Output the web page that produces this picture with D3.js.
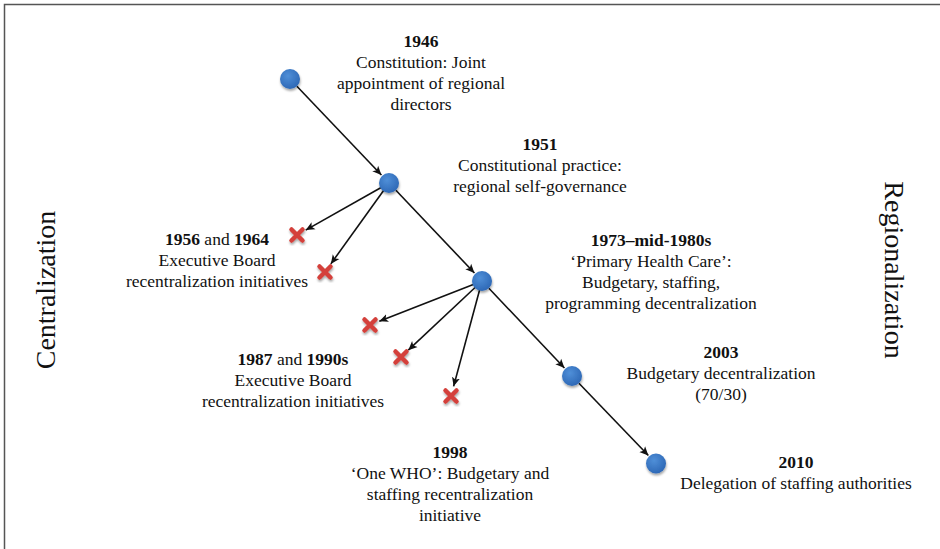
<!DOCTYPE html>
<html>
<head>
<meta charset="utf-8">
<script src="https://cdn.jsdelivr.net/npm/d3@7"></script>
<style>
    body { margin: 0; background: #fff; }
    svg { display: block; }
    text, tspan { font-family: "Liberation Serif", "Times New Roman", serif; fill: #111; }
</style>
</head>
<body>
<svg id="chart" width="940" height="549"></svg>
<script>
window.addEventListener("load", main);

const WIDTH = 940;
const HEIGHT = 549;
const SERIF = "'Liberation Serif', 'Times New Roman', serif";

// grid units (1 unit = 10px) for the diagram layout
const nodeYears = ["1946", "1951", "1973", "2003", "2010"];
const nodeX = [29.0, 38.9, 48.2, 57.2, 65.6];
const nodeY = [7.9, 18.3, 28.1, 37.6, 46.35];

// rejected recentralization attempts (red crosses) and the node they branch from
const crossX = [29.7, 32.5, 37.0, 40.1, 45.1];
const crossY = [23.5, 27.2, 32.5, 35.7, 39.6];
const crossParent = [1, 1, 2, 2, 2];

// label blocks: **bold** marks bold spans
const labelX = [42.1, 54.0, 21.7, 65.1, 29.3, 72.1, 45.0, 79.6];
const labelY = [4.7, 15.0, 24.5, 24.6, 36.5, 35.8, 45.8, 46.8];
const labelLines = [
    ["**1946**", "Constitution: Joint", "appointment of regional", "directors"],
    ["**1951**", "Constitutional practice:", "regional self-governance"],
    ["**1956** and **1964**", "Executive Board", "recentralization initiatives"],
    ["**1973–mid-1980s**", "‘Primary Health Care’:", "Budgetary, staffing,", "programming decentralization"],
    ["**1987** and **1990s**", "Executive Board", "recentralization initiatives"],
    ["**2003**", "Budgetary decentralization", "(70/30)"],
    ["**1998**", "‘One WHO’: Budgetary and", "staffing recentralization", "initiative"],
    ["**2010**", "Delegation of staffing authorities"]
];

const sideLabels = ["Centralization", "Regionalization"];

const NODE_R = 10;
const LINE_H = 21;

function shorten(x1, y1, x2, y2, a, b){
    var dx = x2 - x1, dy = y2 - y1;
    var len = Math.sqrt(dx*dx + dy*dy);
    return [x1 + dx*a/len, y1 + dy*a/len, x2 - dx*b/len, y2 - dy*b/len];
}

function main(){
    var x = d3.scaleLinear().domain([0, 94]).range([0, WIDTH]);
    var y = d3.scaleLinear().domain([0, 54.9]).range([0, HEIGHT]);

    var svg = d3.select("#chart");
    var defs = svg.append("defs");

    defs.append("marker")
        .attr("id", "arrow")
        .attr("viewBox", "0 -5 10 10")
        .attr("refX", 10).attr("refY", 0)
        .attr("markerWidth", 9).attr("markerHeight", 9)
        .attr("markerUnits", "userSpaceOnUse")
        .attr("orient", "auto")
        .append("path")
        .attr("d", "M0,-4.5L10,0L0,4.5L2.5,0Z")
        .attr("fill", "#111");

    var shadow = defs.append("filter").attr("id", "shadow")
        .attr("x", "-50%").attr("y", "-50%").attr("width", "200%").attr("height", "200%");
    shadow.append("feDropShadow")
        .attr("dx", 0.5).attr("dy", 2).attr("stdDeviation", 1.3)
        .attr("flood-color", "#000").attr("flood-opacity", 0.35);

    var grad = defs.append("radialGradient").attr("id", "blue")
        .attr("cx", "40%").attr("cy", "35%").attr("r", "70%");
    grad.append("stop").attr("offset", "0%").attr("stop-color", "#4f8fd8");
    grad.append("stop").attr("offset", "100%").attr("stop-color", "#2c66b4");

    // frame: top and left edges only
    svg.append("path")
        .attr("d", "M4.5," + HEIGHT + "V4.5H" + WIDTH)
        .attr("fill", "none")
        .attr("stroke", "#555")
        .attr("stroke-width", 1.5);

    var nodes = nodeYears.map((yr, i)=>({year: yr, cx: x(nodeX[i]), cy: y(nodeY[i])}));
    var crosses = crossX.map((cx, i)=>({cx: x(cx), cy: y(crossY[i]), parent: crossParent[i]}));

    var links = [];
    for (var i = 0; i < nodes.length - 1; i++){
        links.push(shorten(nodes[i].cx, nodes[i].cy, nodes[i+1].cx, nodes[i+1].cy, NODE_R, NODE_R + 1));
    }
    crosses.forEach((c)=>{
        var p = nodes[c.parent];
        links.push(shorten(p.cx, p.cy, c.cx, c.cy, NODE_R - 2, 10));
    });

    svg.append("g").selectAll("line")
        .data(links)
        .enter()
        .append("line")
        .attr("x1", d=>d[0]).attr("y1", d=>d[1])
        .attr("x2", d=>d[2]).attr("y2", d=>d[3])
        .attr("stroke", "#111")
        .attr("stroke-width", 1.6)
        .attr("marker-end", "url(#arrow)");

    svg.append("g").selectAll("path")
        .data(crosses)
        .enter()
        .append("path")
        .attr("d", d=>{
            var s = 5.5;
            return "M" + (d.cx - s) + "," + (d.cy - s) + "L" + (d.cx + s) + "," + (d.cy + s) +
                "M" + (d.cx + s) + "," + (d.cy - s) + "L" + (d.cx - s) + "," + (d.cy + s);
        })
        .attr("stroke", "#d4403b")
        .attr("stroke-width", 4.5)
        .attr("stroke-linecap", "round")
        .attr("fill", "none")
        .attr("filter", "url(#shadow)");

    svg.append("g").selectAll("circle")
        .data(nodes)
        .enter()
        .append("circle")
        .attr("cx", d=>d.cx).attr("cy", d=>d.cy)
        .attr("r", NODE_R)
        .attr("fill", "url(#blue)")
        .attr("filter", "url(#shadow)");

    // text blocks
    labelLines.forEach((lines, i)=>{
        var t = svg.append("text")
            .attr("text-anchor", "middle")
            .attr("font-family", SERIF)
            .attr("font-size", 17.5);
        lines.forEach((line, j)=>{
            var row = t.append("tspan")
                .attr("x", x(labelX[i]))
                .attr("y", y(labelY[i]) + j * LINE_H);
            line.split("**").forEach((part, k)=>{
                if (part === "") return;
                row.append("tspan")
                    .attr("font-family", SERIF)
                    .attr("font-weight", k % 2 ? "bold" : "normal")
                    .text(part);
            });
        });
    });

    svg.append("text")
        .attr("transform", "translate(55,290) rotate(-90)")
        .attr("text-anchor", "middle")
        .attr("font-family", SERIF)
        .attr("font-size", 28)
        .text(sideLabels[0]);

    svg.append("text")
        .attr("transform", "translate(885,270) rotate(90)")
        .attr("text-anchor", "middle")
        .attr("font-family", SERIF)
        .attr("font-size", 28)
        .text(sideLabels[1]);
}
</script>
</body>
</html>
